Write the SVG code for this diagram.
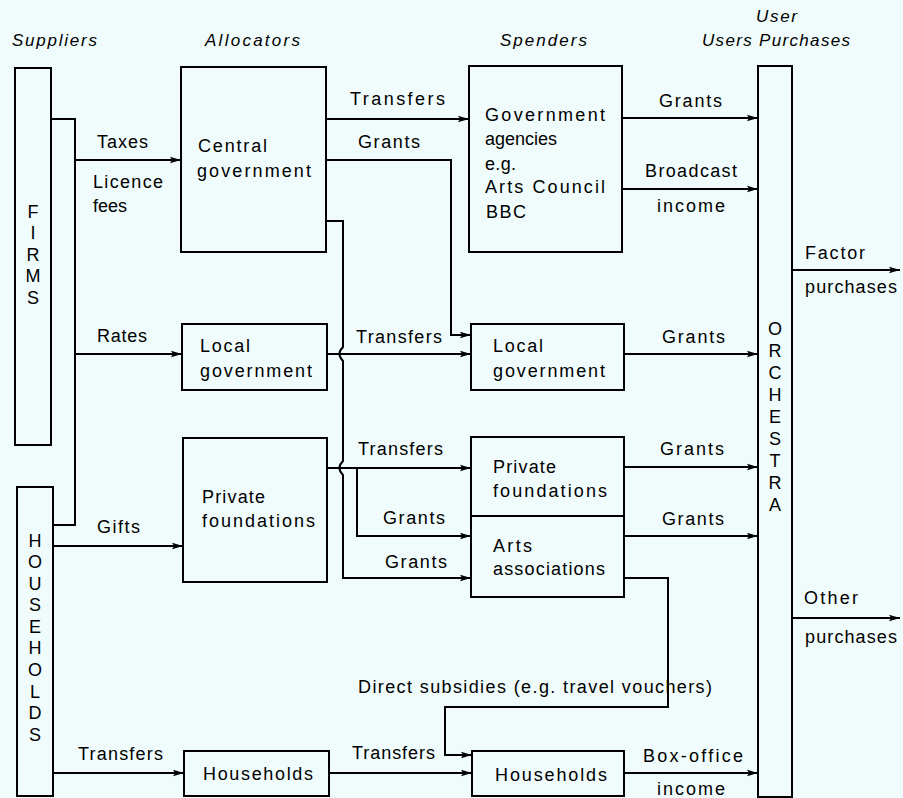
<svg xmlns="http://www.w3.org/2000/svg" width="903" height="798" viewBox="0 0 903 798">
<defs>
<marker id="arr" markerUnits="userSpaceOnUse" markerWidth="12" markerHeight="8" refX="11" refY="4" orient="auto">
<path d="M0,0.8 L11,4 L0,7.2 L2,4 z" fill="#000"/>
</marker>
<style>
.box{fill:none;stroke:#000;stroke-width:2}
.c{fill:none;stroke:#000;stroke-width:2}
.a{marker-end:url(#arr)}
text{font-family:"Liberation Sans","DejaVu Sans",Arial,sans-serif;font-size:18px;fill:#000}
.h{font-style:italic;font-size:17px}
.v{text-anchor:middle}
</style>
</defs>
<rect width="903" height="798" fill="#f0fcfc"/>

<g id="headers">
<text class="h" x="12" y="46" textLength="85">Suppliers</text>
<text class="h" x="205" y="46" textLength="95">Allocators</text>
<text class="h" x="500" y="46" textLength="87">Spenders</text>
<text class="h" x="756" y="22" textLength="41">User</text>
<text class="h" x="702" y="46" textLength="148">Users Purchases</text>
</g>

<g id="firms">
<rect class="box" x="15" y="68" width="36" height="377"/>
<text class="v"><tspan x="33" y="218">F</tspan><tspan x="33" y="239">I</tspan><tspan x="33" y="261">R</tspan><tspan x="33" y="282">M</tspan><tspan x="33" y="304">S</tspan></text>
</g>

<g id="households-supplier">
<rect class="box" x="17" y="487" width="36" height="309"/>
<text class="v"><tspan x="35" y="547">H</tspan><tspan x="35" y="568">O</tspan><tspan x="35" y="590">U</tspan><tspan x="35" y="611">S</tspan><tspan x="35" y="633">E</tspan><tspan x="35" y="654">H</tspan><tspan x="35" y="676">O</tspan><tspan x="35" y="698">L</tspan><tspan x="35" y="719">D</tspan><tspan x="35" y="741">S</tspan></text>
</g>

<g id="central-government">
<rect class="box" x="181" y="67" width="145" height="185"/>
<text x="198" y="152" textLength="69">Central</text>
<text x="197" y="177" textLength="114">government</text>
</g>

<g id="local-government-alloc">
<rect class="box" x="182" y="324" width="145" height="66"/>
<text x="200" y="352" textLength="50">Local</text>
<text x="200" y="377" textLength="112">government</text>
</g>

<g id="private-foundations-alloc">
<rect class="box" x="183" y="438" width="144" height="144"/>
<text x="202" y="503" textLength="63">Private</text>
<text x="202" y="527" textLength="113">foundations</text>
</g>

<g id="households-alloc">
<rect class="box" x="184" y="751" width="145" height="45"/>
<text x="203" y="780" textLength="110">Households</text>
</g>

<g id="government-agencies">
<rect class="box" x="469" y="66" width="153" height="186"/>
<text x="485" y="121" textLength="120">Government</text>
<text x="485" y="145">agencies</text>
<text x="485" y="170" textLength="31">e.g.</text>
<text x="485" y="193" textLength="120">Arts Council</text>
<text x="486" y="218" textLength="40">BBC</text>
</g>

<g id="local-government-spend">
<rect class="box" x="471" y="324" width="153" height="66"/>
<text x="493" y="352" textLength="50">Local</text>
<text x="493" y="377" textLength="112">government</text>
</g>

<g id="private-foundations-spend">
<rect class="box" x="471" y="437" width="153" height="79"/>
<text x="493" y="473" textLength="63">Private</text>
<text x="493" y="497" textLength="114">foundations</text>
</g>

<g id="arts-associations">
<rect class="box" x="471" y="516" width="153" height="81"/>
<text x="493" y="552" textLength="39">Arts</text>
<text x="493" y="575" textLength="112">associations</text>
</g>

<g id="households-spend">
<rect class="box" x="472" y="751" width="152" height="45"/>
<text x="495" y="781" textLength="112">Households</text>
</g>

<g id="orchestra">
<rect class="box" x="758" y="66" width="34" height="731"/>
<text class="v"><tspan x="775" y="335">O</tspan><tspan x="775" y="357">R</tspan><tspan x="775" y="379">C</tspan><tspan x="775" y="401">H</tspan><tspan x="775" y="423">E</tspan><tspan x="775" y="445">S</tspan><tspan x="775" y="467">T</tspan><tspan x="775" y="489">R</tspan><tspan x="775" y="511">A</tspan></text>
</g>

<g id="connectors">
<path class="c" d="M51,119 H75 V525 H53"/>
<path class="c a" d="M75,160 H181"/>
<path class="c a" d="M75,354 H182"/>
<path class="c a" d="M53,546 H183"/>
<path class="c a" d="M53,773 H184"/>
<path class="c a" d="M326,119 H469"/>
<path class="c a" d="M326,160 H451 V335 H471"/>
<path class="c a" d="M326,221 H343 V347 Q336,354 343,361 V461 Q336,468 343,475 V578 H471"/>
<path class="c a" d="M327,354 H471"/>
<path class="c a" d="M327,468 H471"/>
<path class="c a" d="M357,468 V536 H471"/>
<path class="c a" d="M622,118 H758"/>
<path class="c a" d="M622,189 H758"/>
<path class="c a" d="M624,354 H758"/>
<path class="c a" d="M624,467 H758"/>
<path class="c a" d="M624,536 H758"/>
<path class="c a" d="M624,578 H668 V707 H445 V755 H472"/>
<path class="c a" d="M329,773 H472"/>
<path class="c a" d="M624,773 H758"/>
<path class="c a" d="M792,270 H900"/>
<path class="c a" d="M792,618 H900"/>
</g>

<g id="labels">
<text x="97" y="148" textLength="51">Taxes</text>
<text x="93" y="188" textLength="70">Licence</text>
<text x="93" y="212">fees</text>
<text x="97" y="342" textLength="50">Rates</text>
<text x="97" y="533" textLength="43">Gifts</text>
<text x="78" y="760" textLength="85">Transfers</text>
<text x="350" y="105" textLength="95">Transfers</text>
<text x="358" y="148" textLength="62">Grants</text>
<text x="356" y="343" textLength="86">Transfers</text>
<text x="358" y="455" textLength="85">Transfers</text>
<text x="383" y="524" textLength="62">Grants</text>
<text x="385" y="568" textLength="62">Grants</text>
<text x="659" y="107" textLength="63">Grants</text>
<text x="645" y="177" textLength="92">Broadcast</text>
<text x="657" y="212" textLength="68">income</text>
<text x="662" y="343" textLength="63">Grants</text>
<text x="660" y="455" textLength="64">Grants</text>
<text x="662" y="525" textLength="62">Grants</text>
<text x="805" y="259" textLength="60">Factor</text>
<text x="805" y="293" textLength="92">purchases</text>
<text x="804" y="604" textLength="54">Other</text>
<text x="805" y="643" textLength="92">purchases</text>
<text x="358" y="693" textLength="354">Direct subsidies (e.g. travel vouchers)</text>
<text x="352" y="759" textLength="83">Transfers</text>
<text x="643" y="762" textLength="100">Box-office</text>
<text x="657" y="795" textLength="68">income</text>
</g>
</svg>
